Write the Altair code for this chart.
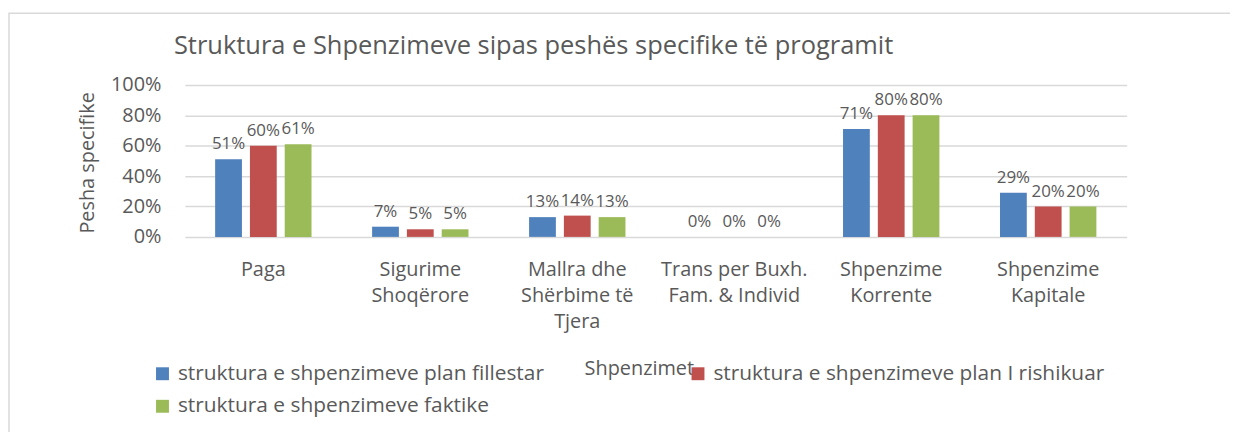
import json
import altair as alt
import pandas as pd

categories = ["Paga", "Sigurime Shoqërore", "Mallra dhe Shërbime të Tjera",
              "Trans per Buxh. Fam. & Individ", "Shpenzime Korrente", "Shpenzime Kapitale"]
category_lines = [["Paga"], ["Sigurime", "Shoqërore"], ["Mallra dhe", "Shërbime të", "Tjera"],
                  ["Trans per Buxh.", "Fam. & Individ"], ["Shpenzime", "Korrente"], ["Shpenzime", "Kapitale"]]
series = ["struktura e shpenzimeve plan fillestar",
          "struktura e shpenzimeve plan I rishikuar",
          "struktura e shpenzimeve faktike"]
plan_fillestar = [0.51, 0.067, 0.13, 0.0, 0.71, 0.29]
plan_rishikuar = [0.60, 0.05, 0.14, 0.0, 0.80, 0.20]
faktike = [0.61, 0.05, 0.13, 0.0, 0.80, 0.20]
colors = ["#4F81BD", "#C0504D", "#9BBB59"]

rows = []
for s, vals in zip(series, [plan_fillestar, plan_rishikuar, faktike]):
    for c, v in zip(categories, vals):
        rows.append({"cat": c, "series": s, "value": v})
df = pd.DataFrame(rows)

FONT = "Open Sans"
GREY = "#595959"
label_map = json.dumps(dict(zip(categories, category_lines)), ensure_ascii=False)

x_enc = alt.X("cat:N", sort=categories,
              scale=alt.Scale(paddingInner=0.386, paddingOuter=0.193),
              axis=alt.Axis(labelAngle=0, labelFontSize=20, labelColor=GREY, labelFont=FONT,
                            labelPadding=23, labelLineHeight=26, domain=False, ticks=False,
                            tickSize=0, labelExpr=label_map + "[datum.label]",
                            labelOverlap=False,
                            title="Shpenzimet", titleFontSize=20, titleFont=FONT,
                            titleFontWeight="normal", titleColor=GREY,
                            titleX=457, titleY=133, titleBaseline="middle"))
xo_enc = alt.XOffset("series:N", sort=series,
                     scale=alt.Scale(paddingInner=0.23, paddingOuter=0))
y_enc = alt.Y("value:Q", scale=alt.Scale(domain=[0, 1]),
              axis=alt.Axis(values=[0, 0.2, 0.4, 0.6, 0.8, 1.0], format=".0%",
                            labelFontSize=20, labelColor=GREY, labelFont=FONT,
                            labelOverlap=False,
                            labelPadding=24, ticks=False, tickSize=0, domain=False,
                            gridColor="#D9D9D9", gridWidth=1.5,
                            title="Pesha specifike", titleFontSize=20, titleFont=FONT,
                            titleFontWeight="normal", titleColor=GREY,
                            titleX=-98, titleY=78, titleAngle=-90,
                            titleBaseline="middle", titleAlign="center"))
color_enc = alt.Color("series:N", sort=series,
                      scale=alt.Scale(domain=series, range=colors),
                      legend=alt.Legend(title=None, orient="none", legendX=-33, legendY=280,
                                        columns=2, columnPadding=144, rowPadding=11,
                                        symbolType="square", symbolSize=169,
                                        symbolStrokeWidth=0, labelFontSize=21,
                                        labelFont=FONT, labelColor=GREY, labelLimit=0,
                                        labelOffset=5, direction="horizontal"))

base = alt.Chart(df).encode(x=x_enc, xOffset=xo_enc, y=y_enc)
bars = base.mark_bar().encode(color=color_enc)
labels = base.mark_text(baseline="bottom", dy=-6, fontSize=17, font=FONT,
                        color=GREY).encode(text=alt.Text("value:Q", format=".0%"))

border = alt.Chart(pd.DataFrame({"a": [0]})).mark_rect(
    fill="transparent", stroke="#D9D9D9", strokeWidth=1.5).encode(
    x=alt.value(-177), x2=alt.value(1070), y=alt.value(-72), y2=alt.value(370))

chart = alt.layer(border, bars, labels).properties(
    width=948, height=153,
    title=alt.TitleParams("Struktura e Shpenzimeve sipas peshës specifike të programit",
                          anchor="start", frame="group", dx=-11, dy=67, fontSize=25.6,
                          font=FONT, color=GREY,
                          fontWeight="normal", offset=0, baseline="alphabetic"),
    autosize=alt.AutoSizeParams(type="none"),
    padding={"left": 178, "top": 76, "right": 104, "bottom": 195},
).configure(font=FONT).configure_view(stroke=None)

chart.save("out.html", embed_options={"renderer": "svg", "actions": False})
